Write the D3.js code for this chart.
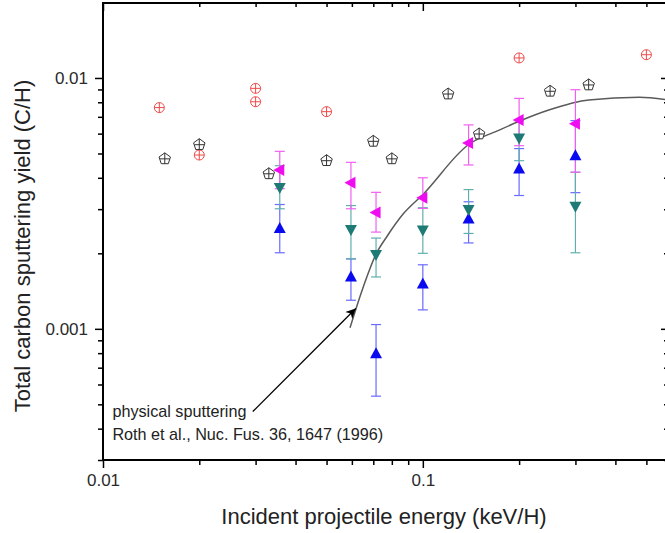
<!DOCTYPE html>
<html>
<head>
<meta charset="utf-8">
<script src="https://cdn.jsdelivr.net/npm/d3@7"></script>
<style>
  body { margin: 0; background: #fff; }
  text { font-family: "Liberation Sans", Arial, sans-serif; }
</style>
</head>
<body>
<div id="chart"></div>
<script>
// axis ranges (keV/H and C/H)
const xDomain = [0.01, 0.58];
const yDomain = [0.0003, 0.0199];
const xMajor = [0.01, 0.1];
const yMajor = [0.001, 0.01];
const xMajorLabels = ["0.01", "0.1"];
const yMajorLabels = ["0.001", "0.01"];

// open symbols, no error bars
const redE = [0.015, 0.02, 0.03, 0.03, 0.05, 0.2, 0.5];
const redY = [0.00762, 0.00493, 0.00909, 0.00804, 0.00734, 0.01202, 0.01238];

const blackE = [0.0156, 0.02, 0.033, 0.05, 0.07, 0.08, 0.12, 0.15, 0.25, 0.33];
const blackY = [0.00476, 0.00542, 0.00415, 0.00468, 0.00559, 0.00476, 0.00863, 0.00598, 0.00885, 0.00938];

// filled triangles with error bars
const triE = [0.0357, 0.0596, 0.0714, 0.1, 0.139, 0.2, 0.3];

const magY  = [0.00430, 0.00382, 0.00291, 0.00333, 0.00551, 0.00680, 0.00657];
const magLo = [0.00362, 0.00301, 0.00243, 0.00302, 0.00450, 0.00537, 0.00421];
const magHi = [0.00510, 0.00461, 0.00350, 0.00400, 0.00650, 0.00829, 0.00898];

const tealY  = [0.00366, 0.00249, 0.00198, 0.00248, 0.00299, 0.00576, 0.00308];
const tealLo = [0.00301, 0.00190, 0.00161, 0.00200, 0.00240, 0.00468, 0.00201];
const tealHi = [0.00447, 0.00310, 0.00230, 0.00304, 0.00359, 0.00676, 0.00421];

const blueY  = [0.00251, 0.00161, 0.000795, 0.00151, 0.00274, 0.00434, 0.00490];
const blueLo = [0.00201, 0.00130, 0.000539, 0.00119, 0.00220, 0.00340, 0.00349];
const blueHi = [0.00313, 0.00190, 0.00104, 0.00180, 0.00321, 0.00523, 0.00676];

// physical sputtering curve (Roth et al.)
const physE = [0.0592, 0.0644, 0.0716, 0.0775, 0.087, 0.1, 0.139, 0.174, 0.2, 0.249, 0.33, 0.476, 0.58];
const physY = [0.00101, 0.00141, 0.00200, 0.00235, 0.00288, 0.00343, 0.00543, 0.00621, 0.00672, 0.00747, 0.00817, 0.00837, 0.00819];

// annotation
const noteLines = ["physical sputtering", "Roth et al., Nuc. Fus. 36, 1647 (1996)"];
const noteE = 0.0107;
const noteY = [0.000444, 0.000359];
const arrowFrom = [0.0294, 0.000468];
const arrowTo = [0.0617, 0.001205];

const width = 665, height = 533;
const mLeft = 103, mRight = 667, mTop = 3, mBottom = 460;

const svg = d3.select("#chart").append("svg")
  .attr("width", width)
  .attr("height", height);

const x = d3.scaleLog().domain(xDomain).range([mLeft, mRight]);
const y = d3.scaleLog().domain(yDomain).range([mBottom, mTop]);

const xMinor = x.ticks().filter(t => !xMajor.some(m => Math.abs(m - t) < 1e-9));
const yMinor = y.ticks().filter(t => !yMajor.some(m => Math.abs(m - t) < 1e-12));

function styleAxis(g) {
  g.select(".domain").remove();
  g.selectAll("line").attr("stroke", "#000").attr("stroke-width", 1.5);
  g.selectAll("text").attr("font-size", 17).attr("fill", "#2a2a2a")
    .attr("font-family", "'Liberation Sans', Arial, sans-serif");
}

// bottom: outward ticks
svg.append("g").attr("transform", `translate(0,${mBottom})`)
  .call(d3.axisBottom(x).tickValues(xMajor).tickSize(8).tickPadding(6)
    .tickFormat((d, i) => xMajorLabels[i]))
  .call(styleAxis);
svg.append("g").attr("transform", `translate(0,${mBottom})`)
  .call(d3.axisBottom(x).tickValues(xMinor).tickSize(5).tickFormat(""))
  .call(styleAxis);
// top: inward ticks
svg.append("g").attr("transform", `translate(0,${mTop})`)
  .call(d3.axisBottom(x).tickValues(xMajor).tickSize(8).tickFormat(""))
  .call(styleAxis);
svg.append("g").attr("transform", `translate(0,${mTop})`)
  .call(d3.axisBottom(x).tickValues(xMinor).tickSize(4).tickFormat(""))
  .call(styleAxis);
// left: outward ticks
svg.append("g").attr("transform", `translate(${mLeft},0)`)
  .call(d3.axisLeft(y).tickValues(yMajor).tickSize(8).tickPadding(7)
    .tickFormat((d, i) => yMajorLabels[i]))
  .call(styleAxis);
svg.append("g").attr("transform", `translate(${mLeft},0)`)
  .call(d3.axisLeft(y).tickValues(yMinor).tickSize(5).tickFormat(""))
  .call(styleAxis);
// right: inward ticks
svg.append("g").attr("transform", `translate(${mRight},0)`)
  .call(d3.axisLeft(y).tickValues(yMajor).tickSize(6).tickFormat(""))
  .call(styleAxis);
svg.append("g").attr("transform", `translate(${mRight},0)`)
  .call(d3.axisLeft(y).tickValues(yMinor).tickSize(3).tickFormat(""))
  .call(styleAxis);

// frame
svg.append("rect")
  .attr("x", mLeft).attr("y", mTop)
  .attr("width", mRight - mLeft).attr("height", mBottom - mTop)
  .attr("fill", "none").attr("stroke", "#000").attr("stroke-width", 2);

// axis titles
svg.append("text")
  .attr("x", 384).attr("y", 524)
  .attr("text-anchor", "middle")
  .attr("font-size", 22).attr("fill", "#222")
  .text("Incident projectile energy (keV/H)");
svg.append("text")
  .attr("transform", "translate(30,246) rotate(-90)")
  .attr("text-anchor", "middle")
  .attr("font-size", 22).attr("fill", "#222")
  .text("Total carbon sputtering yield (C/H)");

// physical sputtering curve
const line = d3.line()
  .x(d => x(d[0]))
  .y(d => y(d[1]))
  .curve(d3.curveMonotoneX);
svg.append("path")
  .datum(physE.map((e, i) => [e, physY[i]]))
  .attr("d", line)
  .attr("fill", "none")
  .attr("stroke", "#5a5a5a")
  .attr("stroke-width", 1.5);

// arrow
svg.append("defs").append("marker")
  .attr("id", "head")
  .attr("viewBox", "0 0 10 10")
  .attr("refX", 10).attr("refY", 5)
  .attr("markerWidth", 14).attr("markerHeight", 10)
  .attr("markerUnits", "userSpaceOnUse")
  .attr("orient", "auto")
  .append("path")
  .attr("d", "M0,0 L10,5 L0,10 L3,5 Z")
  .attr("fill", "#000");
svg.append("line")
  .attr("x1", x(arrowFrom[0])).attr("y1", y(arrowFrom[1]))
  .attr("x2", x(arrowTo[0])).attr("y2", y(arrowTo[1]))
  .attr("stroke", "#000").attr("stroke-width", 1.3)
  .attr("marker-end", "url(#head)");

noteLines.forEach((t, i) => {
  svg.append("text")
    .attr("x", x(noteE)).attr("y", y(noteY[i]))
    .attr("font-size", 16.2).attr("fill", "#222")
    .text(t);
});

// error bars
function errorBars(ys, lo, hi, color) {
  const g = svg.append("g").attr("stroke", color).attr("stroke-width", 1.2);
  triE.forEach((e, i) => {
    const cx = x(e);
    g.append("line").attr("x1", cx).attr("x2", cx).attr("y1", y(lo[i])).attr("y2", y(hi[i]));
    [lo[i], hi[i]].forEach(v => {
      g.append("line").attr("x1", cx - 5).attr("x2", cx + 5).attr("y1", y(v)).attr("y2", y(v));
    });
  });
}
errorBars(blueY, blueLo, blueHi, "#6a6aff");
errorBars(tealY, tealLo, tealHi, "#5fb0ad");
errorBars(magY, magLo, magHi, "#f060f0");

// triangle markers
const triUp = "M0,-6.5 L6,4.5 L-6,4.5 Z";
const triDown = "M0,6.5 L6,-4.5 L-6,-4.5 Z";
const triLeft = "M-6.5,0 L4.5,-6 L4.5,6 Z";
function triangles(ys, path, color) {
  svg.append("g").selectAll("path")
    .data(triE.map((e, i) => [e, ys[i]]))
    .join("path")
    .attr("transform", d => `translate(${x(d[0])},${y(d[1])})`)
    .attr("d", path)
    .attr("fill", color);
}
triangles(blueY, triUp, "#0a0af0");
triangles(tealY, triDown, "#1e7a74");
triangles(magY, triLeft, "#f00cf0");

// red crossed circles
const red = svg.append("g").attr("stroke", "#f04a4a").attr("stroke-width", 1).attr("fill", "#fff");
redE.forEach((e, i) => {
  const g = red.append("g").attr("transform", `translate(${x(e)},${y(redY[i])})`);
  g.append("circle").attr("r", 5);
  g.append("path").attr("d", "M-5,0 H5 M0,-5 V5");
});

// black crossed pentagons
const pent = d3.range(5).map(k => {
  const a = -Math.PI / 2 + k * 2 * Math.PI / 5;
  return [6 * Math.cos(a), 6 * Math.sin(a)];
});
const black = svg.append("g").attr("stroke", "#333").attr("stroke-width", 1).attr("fill", "#fff");
blackE.forEach((e, i) => {
  const g = black.append("g").attr("transform", `translate(${x(e)},${y(blackY[i])})`);
  g.append("path").attr("d", "M" + pent.map(p => p.join(",")).join("L") + "Z");
  g.append("path").attr("d", "M-4.8,0 H4.8 M0,-6 V4.9");
});
</script>
</body>
</html>
